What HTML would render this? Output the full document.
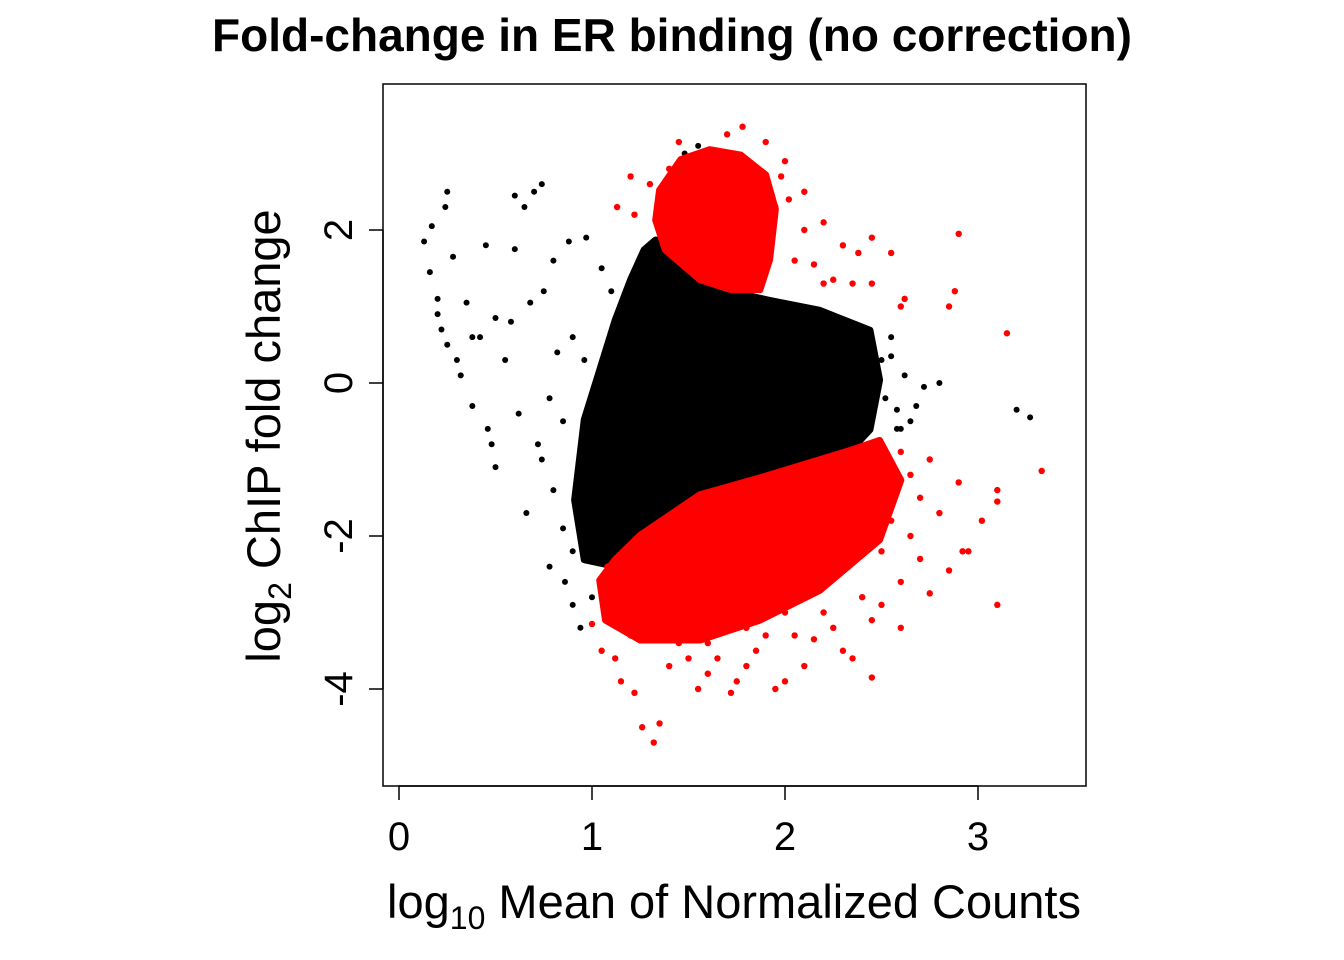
<!DOCTYPE html>
<html><head><meta charset="utf-8"><style>
html,body{margin:0;padding:0;background:#fff;}
svg{display:block;font-family:"Liberation Sans",Arial,sans-serif;}
</style></head><body>
<svg id="chart" width="1344" height="960" viewBox="0 0 1344 960">
<text x="672" y="51" text-anchor="middle" font-size="46" font-weight="bold">Fold-change in ER binding (no correction)</text>
<g id="marks"></g>
<rect x="383" y="84" width="703" height="702" fill="none" stroke="#000" stroke-width="1.5"/>
<g id="xaxis"></g>
<g id="yaxis"></g>
<text x="734" y="918" text-anchor="middle" font-size="47">log<tspan font-size="32" dy="11">10</tspan><tspan dy="-11"> Mean of Normalized Counts</tspan></text>
<text transform="translate(280,436) rotate(-90)" text-anchor="middle" font-size="47">log<tspan font-size="32" dy="11">2</tspan><tspan dy="-11"> ChIP fold change</tspan></text>
</svg>
<script>
const xTicks=[0,1,2,3];
const yTicks=[-4,-2,0,2];
const blackHullX=[1.33,1.56,1.92,2.18,2.44,2.49,2.44,2.34,1.87,1.51,1.20,1.09,0.96,0.91,0.96,1.04,1.12,1.20,1.27];
const blackHullY=[1.87,1.28,1.08,0.95,0.69,0.04,-0.61,-0.88,-1.27,-1.53,-2.05,-2.38,-2.31,-1.53,-0.48,0.17,0.82,1.35,1.74];
const redTopHullX=[1.35,1.46,1.61,1.77,1.90,1.95,1.92,1.87,1.72,1.56,1.38,1.33];
const redTopHullY=[2.52,2.92,3.05,2.98,2.72,2.27,1.61,1.22,1.22,1.35,1.74,2.13];
const redBotHullX=[1.25,1.56,1.87,2.34,2.49,2.60,2.49,2.18,1.87,1.56,1.25,1.07,1.04,1.12];
const redBotHullY=[-1.99,-1.46,-1.24,-0.88,-0.75,-1.27,-2.05,-2.71,-3.10,-3.36,-3.36,-3.10,-2.58,-2.31];
const blackX=[0.13,0.16,0.17,0.2,0.25,0.24,0.22,0.25,0.3,0.32,0.35,0.38,0.42,0.45,0.48,0.5,0.5,0.55,0.6,0.62,0.65,0.7,0.74,0.72,0.66,0.75,0.8,0.82,0.85,0.88,0.9,0.78,0.86,0.9,0.94,0.8,0.78,0.38,0.28,0.6,0.2,0.46,0.58,0.68,0.96,2.55,2.62,2.72,2.8,2.68,3.2,3.27,2.58,1.55,1.48,0.97,1.0,0.74,2.5,2.45,2.6,2.4,0.85,0.9,0.95,2.52,2.58,2.65,2.55,1.05,1.1,1.15];
const blackY=[1.85,1.45,2.05,1.1,2.5,2.3,0.7,0.5,0.3,0.1,1.05,-0.3,0.6,1.8,-0.8,-1.1,0.85,0.3,2.45,-0.4,2.3,2.5,2.6,-0.8,-1.7,1.2,1.6,0.4,-0.5,1.85,0.6,-0.2,-2.6,-2.9,-3.2,-1.4,-2.4,0.6,1.65,1.75,0.9,-0.6,0.8,1.05,0.3,0.6,0.1,-0.05,0.0,-0.3,-0.35,-0.45,-0.35,3.1,3.0,1.9,-2.8,-1.0,0.3,-0.3,-0.6,-0.7,-1.9,-2.2,-1.2,-0.2,-0.6,-0.5,0.35,1.5,1.2,0.9];
const redX=[1.13,1.22,1.2,1.3,1.45,1.7,1.78,1.9,2.0,2.1,2.2,2.3,2.38,2.45,2.55,2.45,2.35,2.2,2.62,2.6,2.85,2.88,2.9,3.15,2.05,2.1,1.95,2.15,2.25,3.33,3.1,3.1,3.02,2.95,2.92,3.1,2.85,2.75,2.8,2.7,2.75,2.9,2.6,2.5,2.45,2.3,2.1,2.0,1.9,1.95,1.75,1.72,1.55,1.5,1.35,1.32,1.26,1.22,1.15,1.12,1.05,1.0,1.1,1.2,1.4,1.6,1.8,2.0,2.2,2.4,2.6,2.5,2.3,2.1,1.9,1.7,1.5,1.3,1.25,1.45,1.65,1.85,2.05,2.25,2.45,2.55,2.65,2.55,2.6,2.5,1.08,1.15,2.7,2.35,1.6,1.4,1.8,2.15,2.0,2.3,1.7,1.1,2.65,2.4,1.98,2.02,1.5,1.4];
const redY=[2.3,2.2,2.7,2.6,3.15,3.25,3.35,3.15,2.9,2.5,2.1,1.8,1.7,1.9,1.7,1.3,1.3,1.3,1.1,1.0,1.0,1.2,1.95,0.65,1.6,2.0,2.3,1.55,1.35,-1.15,-1.4,-1.55,-1.8,-2.2,-2.2,-2.9,-2.45,-2.75,-1.7,-1.5,-1.0,-1.3,-3.2,-2.9,-3.85,-3.5,-3.7,-3.9,-3.3,-4.0,-3.9,-4.05,-4.0,-3.6,-4.45,-4.7,-4.5,-4.05,-3.9,-3.6,-3.5,-3.15,-3.1,-3.3,-3.2,-3.4,-3.2,-3.0,-3.0,-2.8,-2.6,-2.2,-2.4,-2.6,-2.8,-3.0,-2.9,-3.0,-2.7,-3.4,-3.6,-3.5,-3.3,-3.2,-3.1,-1.8,-2.0,-1.4,-0.9,-1.0,-2.4,-2.6,-2.3,-3.6,-3.8,-3.7,-3.7,-3.35,-2.0,-1.9,-2.3,-2.9,-1.2,-1.5,2.7,2.4,2.9,2.8];
const sx=v=>399+v*193, sy=v=>383-v*76.5;
const NS='http://www.w3.org/2000/svg';
const g=document.getElementById('marks');
function poly(xs,ys,col,name){
  const p=document.createElementNS(NS,'polygon');
  p.setAttribute('points',xs.map((x,i)=>sx(x)+','+sy(ys[i])).join(' '));
  p.setAttribute('fill',col);p.setAttribute('stroke',col);p.setAttribute('stroke-width','7');p.setAttribute('stroke-linejoin','round');
  
  
  g.appendChild(p);
}
function pts(xs,ys,col,r,name){
  xs.forEach((x,i)=>{
    const c=document.createElementNS(NS,'circle');
    c.setAttribute('cx',sx(x));c.setAttribute('cy',sy(ys[i]));c.setAttribute('r',r);c.setAttribute('fill',col);
    
    
    g.appendChild(c);
  });
}
poly(blackHullX,blackHullY,'#000','black-dense-region');
pts(blackX,blackY,'#000',3,'black-point');
poly(redBotHullX,redBotHullY,'#ff0000','red-lower-dense-region');
poly(redTopHullX,redTopHullY,'#ff0000','red-upper-dense-region');
pts(redX,redY,'#ff0000',3.2,'red-point');
const xa=document.getElementById('xaxis'),ya=document.getElementById('yaxis');
const xl=document.createElementNS(NS,'line');
xl.setAttribute('x1',sx(xTicks[0]));xl.setAttribute('x2',sx(xTicks[xTicks.length-1]));xl.setAttribute('y1',786);xl.setAttribute('y2',786);xl.setAttribute('stroke','#000');xl.setAttribute('stroke-width','1.5');


xa.appendChild(xl);
xTicks.forEach(t=>{
  const l=document.createElementNS(NS,'line');
  l.setAttribute('x1',sx(t));l.setAttribute('x2',sx(t));l.setAttribute('y1',786);l.setAttribute('y2',800);l.setAttribute('stroke','#000');l.setAttribute('stroke-width','1.5');
  
  
  xa.appendChild(l);
  const tx=document.createElementNS(NS,'text');
  tx.setAttribute('x',sx(t));tx.setAttribute('y',850);tx.setAttribute('text-anchor','middle');tx.setAttribute('font-size','40');tx.textContent=t;
  
  
  xa.appendChild(tx);
});
const yl=document.createElementNS(NS,'line');
yl.setAttribute('x1',383);yl.setAttribute('x2',383);yl.setAttribute('y1',sy(yTicks[0]));yl.setAttribute('y2',sy(yTicks[yTicks.length-1]));yl.setAttribute('stroke','#000');yl.setAttribute('stroke-width','1.5');


ya.appendChild(yl);
yTicks.forEach(t=>{
  const l=document.createElementNS(NS,'line');
  l.setAttribute('x1',369);l.setAttribute('x2',383);l.setAttribute('y1',sy(t));l.setAttribute('y2',sy(t));l.setAttribute('stroke','#000');l.setAttribute('stroke-width','1.5');
  
  
  ya.appendChild(l);
  const tx=document.createElementNS(NS,'text');
  tx.setAttribute('transform','translate(352,'+sy(t)+') rotate(-90)');tx.setAttribute('text-anchor','middle');tx.setAttribute('font-size','40');tx.textContent=t;
  
  
  ya.appendChild(tx);
});
</script>
</body></html>
